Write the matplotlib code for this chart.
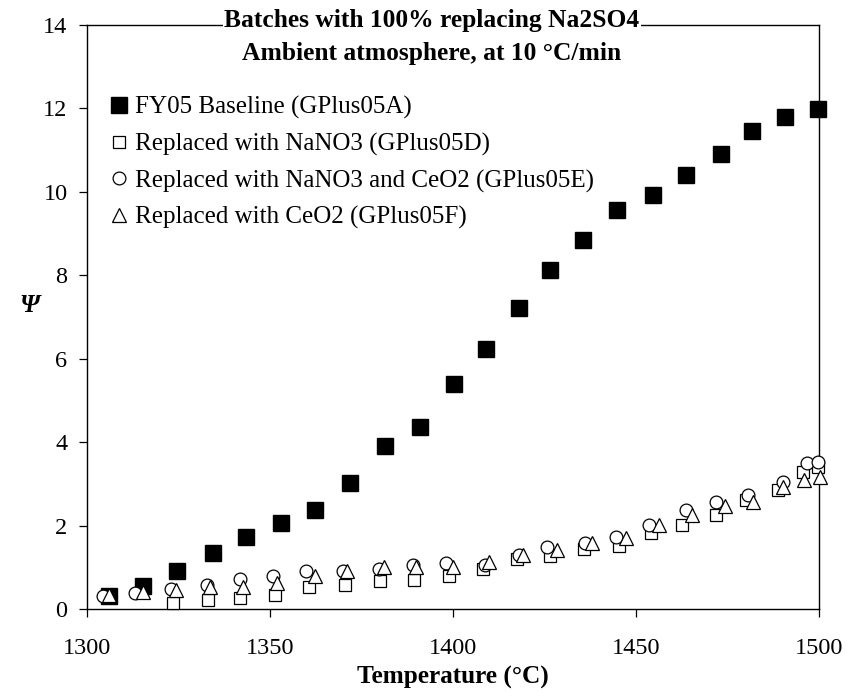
import matplotlib
matplotlib.use('Agg')
import matplotlib.pyplot as plt

plt.rcParams['font.family'] = ['Liberation Serif', 'DejaVu Serif']

# FY05 Baseline (GPlus05A) - filled squares
temp_a = [1305.9, 1315.4, 1324.5, 1334.3, 1343.4, 1353.0, 1362.3, 1371.9, 1381.3, 1390.9, 1400.3,
          1408.9, 1417.9, 1426.6, 1435.6, 1444.7, 1454.6, 1463.7, 1473.2, 1481.8, 1490.7, 1499.7]
psi_a = [0.30, 0.56, 0.90, 1.35, 1.73, 2.07, 2.37, 3.02, 3.90, 4.36, 5.40,
         6.23, 7.22, 8.13, 8.85, 9.57, 9.92, 10.40, 10.91, 11.47, 11.79, 11.98]

# Replaced with NaNO3 (GPlus05D) - open squares
temp_d = [1323.4, 1333.0, 1341.8, 1351.4, 1360.7, 1370.5, 1380.1, 1389.4, 1398.9, 1408.2, 1417.4,
          1426.5, 1435.9, 1445.4, 1454.1, 1462.7, 1471.9, 1480.1, 1488.9, 1495.7, 1499.8]
psi_d = [0.14, 0.22, 0.26, 0.34, 0.52, 0.58, 0.67, 0.70, 0.78, 0.96, 1.20,
         1.27, 1.44, 1.51, 1.82, 2.01, 2.25, 2.61, 2.85, 3.29, 3.41]

# Replaced with NaNO3 and CeO2 (GPlus05E) - open circles
temp_e = [1304.5, 1313.0, 1322.9, 1332.7, 1341.8, 1350.9, 1359.8, 1370.0, 1379.9, 1389.2, 1398.0,
          1408.8, 1418.1, 1425.6, 1436.1, 1444.5, 1453.6, 1463.7, 1471.9, 1480.7, 1490.1, 1496.6, 1499.8]
psi_e = [0.31, 0.39, 0.47, 0.58, 0.71, 0.79, 0.92, 0.92, 0.95, 1.05, 1.10,
         1.05, 1.29, 1.49, 1.58, 1.73, 2.01, 2.37, 2.57, 2.73, 3.05, 3.49, 3.53]

# Replaced with CeO2 (GPlus05F) - open triangles
temp_f = [1306.0, 1315.4, 1324.3, 1333.6, 1342.7, 1351.8, 1362.3, 1371.1, 1381.2, 1389.9, 1400.1,
          1409.9, 1419.0, 1428.3, 1438.1, 1447.3, 1456.4, 1465.2, 1474.3, 1481.9, 1490.1, 1495.9, 1500.3]
psi_f = [0.33, 0.40, 0.46, 0.52, 0.53, 0.62, 0.79, 0.92, 1.01, 1.01, 1.01,
         1.13, 1.29, 1.41, 1.58, 1.70, 2.01, 2.25, 2.47, 2.57, 2.92, 3.09, 3.16]

x_ticks = [1300, 1350, 1400, 1450, 1500]
y_ticks = [0, 2, 4, 6, 8, 10, 12, 14]

fig = plt.figure(figsize=(8.5, 7), dpi=100)
ax = fig.add_axes([87 / 850, 1 - 609 / 700, (819 - 87) / 850, (609 - 25) / 700])

ax.plot(temp_a, psi_a, 's', color='black', ms=11.3, label='FY05 Baseline (GPlus05A)',
        clip_on=False, zorder=3)
ax.plot(temp_d, psi_d, 's', mfc='white', mec='black', mew=0.9, ms=8.8,
        label='Replaced with NaNO3 (GPlus05D)', clip_on=False, zorder=4)
ax.plot(temp_e, psi_e, 'o', mfc='white', mec='black', mew=0.9, ms=9.2,
        label='Replaced with NaNO3 and CeO2 (GPlus05E)', clip_on=False, zorder=5)
ax.plot(temp_f, psi_f, '^', mfc='white', mec='black', mew=0.9, ms=10,
        label='Replaced with CeO2 (GPlus05F)', clip_on=False, zorder=6)

ax.set_xlim(1300, 1500)
ax.set_ylim(0, 14)
ax.set_xticks(x_ticks)
ax.set_yticks(y_ticks)
ax.tick_params(direction='out', length=6, width=0.9, labelsize=17.5,
               top=False, right=False)
ax.tick_params(axis='x', pad=15)
ax.tick_params(axis='y', pad=8)
for s in ax.spines.values():
    s.set_linewidth(1.0)

ax.set_xlabel('Temperature (\u00b0C)', fontsize=18.2, fontweight='bold', labelpad=5)
ax.set_ylabel('\u03a8', fontsize=18.2, fontweight='bold', style='italic', rotation=0)
ax.yaxis.set_label_coords(-0.078, 0.5)

# title sits on the top frame line, with a white box breaking the line
ax.text(0.471, 1.007, 'Batches with 100% replacing Na2SO4', transform=ax.transAxes,
        ha='center', va='center', fontsize=18.4, fontweight='bold', zorder=10,
        bbox=dict(facecolor='white', edgecolor='none', pad=1))
ax.text(0.471, 0.952, 'Ambient atmosphere, at 10 \u00b0C/min', transform=ax.transAxes,
        ha='center', va='center', fontsize=18.4, fontweight='bold', zorder=10)

ax.legend(loc='upper left', bbox_to_anchor=(0.013, 0.895), frameon=False, fontsize=18,
          handlelength=1.0, handletextpad=0.15, labelspacing=0.54, borderaxespad=0)

plt.savefig('out.png', dpi=100)
